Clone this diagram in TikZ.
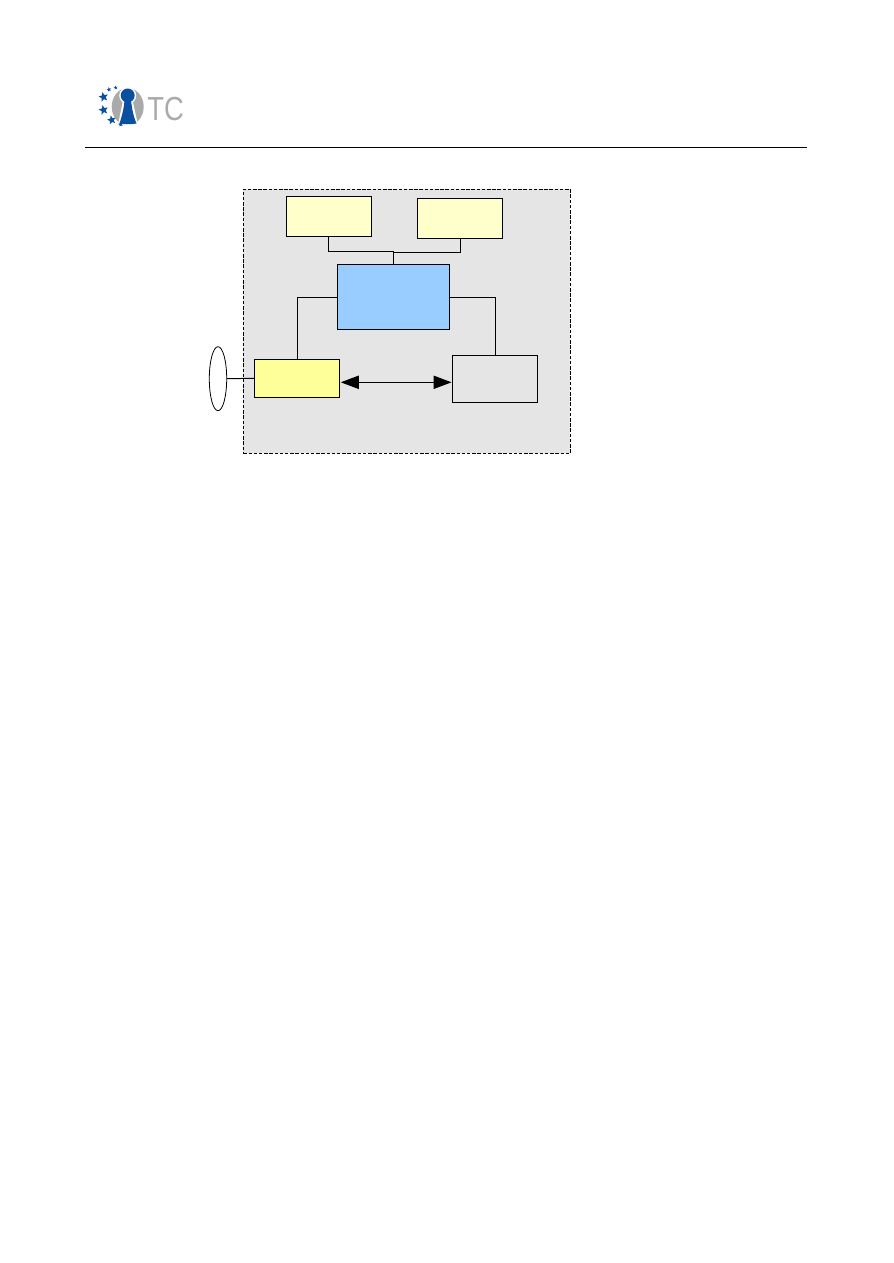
\documentclass[tikz,border=0pt]{standalone}
\usepackage{fontspec}
\usepackage{graphicx}
\setmainfont{Liberation Sans}
\usetikzlibrary{arrows.meta,shapes.geometric,calc,positioning}
\definecolor{panelgray}{RGB}{229,229,229}
\definecolor{paleyellow}{RGB}{255,255,204}
\definecolor{brightyellow}{RGB}{255,255,153}
\definecolor{skyblue}{RGB}{153,204,255}
\definecolor{logoblue}{RGB}{10,80,160}
\definecolor{logogray}{RGB}{170,170,170}
\tikzset{
  x=0.75pt,y=-0.75pt,
  boxnode/.style={draw=black,line width=0.75pt,minimum width=85.4*0.75pt,inner sep=0pt},
  wire/.style={draw=black,line width=0.75pt},
  tip/.style={{Triangle[length=13.5pt,width=10pt]}-{Triangle[length=13.5pt,width=10pt]}},
  logostar/.style={star,star points=5,star point ratio=2.3,fill=logoblue,inner sep=0pt,rotate=12}
}
\begin{document}
\begin{tikzpicture}
\useasboundingbox (0,0) rectangle (893,1263);
\fill[white] (0,0) rectangle (893,1263);
% header rule
\coordinate (ruleL) at (85,147.5);
\coordinate (ruleR) at (807,147.5);
\draw[wire] (ruleL) -- (ruleR);
% logo
\fill[logogray] (127.7,106.7) ellipse [x radius=16,y radius=18.7];
\fill[white,draw=white,line width=2.2pt] (127.7,95.5) circle [radius=7]
  (124.5,100) -- (131,100) -- (136.5,125) -- (119.5,125) -- cycle;
\fill[logoblue] (127.7,95.5) circle [radius=7];
\fill[logoblue] (124.5,100) -- (131,100) .. controls (132,110) and (134,118) .. (136.5,123.5)
  .. controls (130,124.5) and (125,124.5) .. (119.5,123.5) .. controls (122,116) and (124,108) .. cycle;
\node[logostar,minimum size=7.5pt] (s1) at (103.5,97) {};
\node[logostar,minimum size=7.5pt] (s2) at (103.5,110) {};
\node[logostar,minimum size=7pt] (s3) at (111.7,120) {};
\node[logostar,minimum size=3.5pt] (s4) at (109,89.5) {};
\node[logostar,minimum size=3pt] (s5) at (115.7,87.7) {};
\node[logostar,minimum size=4pt] (s6) at (120.7,124.3) {};
\node[anchor=center,text=logogray,font=\fontsize{25}{25}\selectfont,inner sep=0pt] (tc) at (165.7,108.7) {\scalebox{0.82}[1]{TC}};
% panel
\node[draw=black,dash pattern=on 2.6pt off 1.3pt,line width=0.75pt,fill=panelgray,minimum width=327*0.75pt,minimum height=264*0.75pt,inner sep=0pt] (panel) at (406.8,321.3) {};
\node[boxnode,fill=paleyellow,minimum height=40*0.75pt] (a) at (329,216.3) {};
\node[boxnode,fill=paleyellow,minimum height=40*0.75pt] (b) at (460,218.3) {};
\node[boxnode,fill=skyblue,minimum width=112*0.75pt,minimum height=65*0.75pt] (c) at (393.3,296.8) {};
\node[boxnode,fill=brightyellow,minimum height=38*0.75pt] (d) at (297,378.3) {};
\node[boxnode,fill=panelgray,minimum height=47*0.75pt] (e) at (495,378.8) {};
\node[ellipse,draw=black,line width=0.6pt,fill=white,minimum width=17.4*0.75pt,minimum height=64*0.75pt,inner sep=0pt] (f) at (218,378.7) {};
% connectors
\coordinate (ja) at (393.3,251.5);
\coordinate (jb) at (393.3,252.5);
\draw[wire] ($(a.south)+(-0.7,0)$) |- (ja) -- ($(c.north)+(0,1)$);
\draw[wire] ($(b.south)+(0.3,0)$) |- (jb);
\draw[wire] (c.west) ++(0,0.5) -| (d.north);
\draw[wire] (c.east) ++(-1,0.5) -| (e.north);
\draw[wire] (f.east) -- (d.west);
\coordinate (al) at ($(d.east)+(0.6,4)$);
\coordinate (ar) at ($(e.west |- al)+(-0.3,0)$);
\draw[wire,tip] (al) -- (ar);
\end{tikzpicture}
\end{document}
